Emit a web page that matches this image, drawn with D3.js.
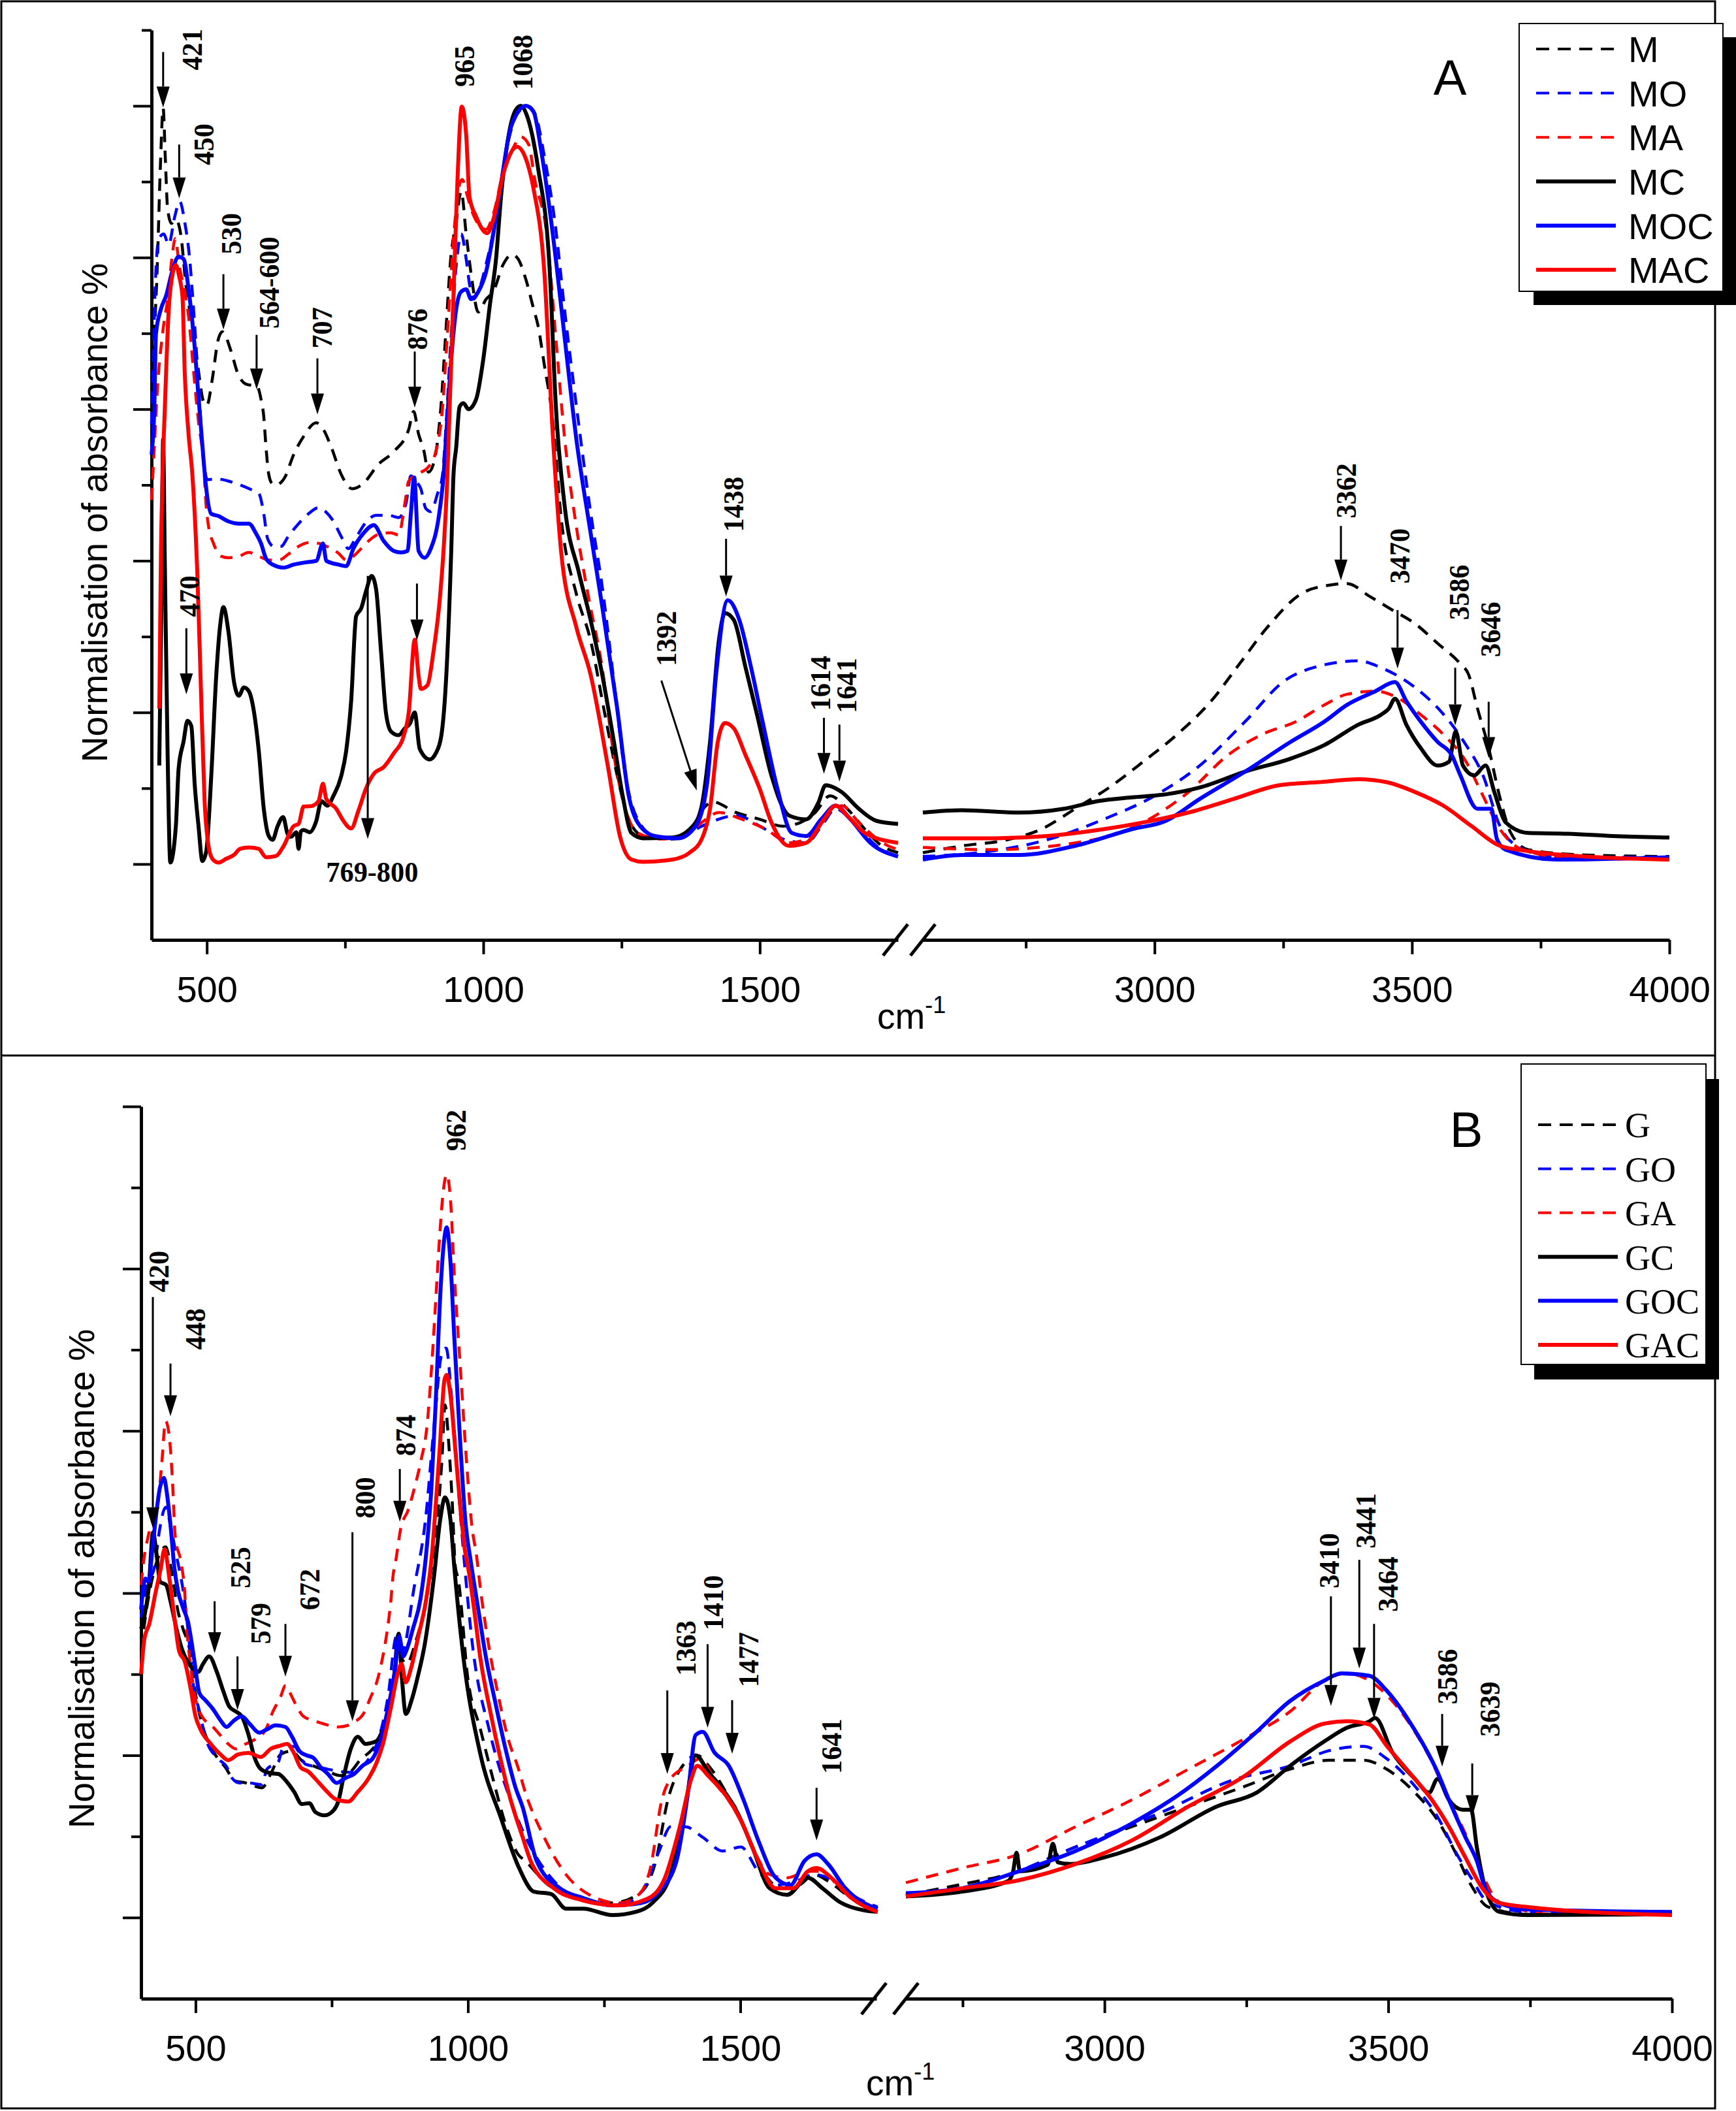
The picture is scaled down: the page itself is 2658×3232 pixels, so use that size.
<!DOCTYPE html>
<html>
<head>
<meta charset="utf-8">
<script src="https://cdn.jsdelivr.net/npm/d3@7"></script>
<style>
  body { margin: 0; background: #fff; }
  svg { display: block; }
</style>
</head>
<body>
<svg id="chart" width="2658" height="3232"></svg>
<script>
// ---------- panel A data: [wavenumber cm-1, normalised absorbance %] ----------
const mLeft = [[400,64],[405,70],[410,78],[416,92],[421,99.7],[425,93],[429,86.5],[436,84.5],[444,85],[453,83],[462,76.5],[476,70],[485,65],[494,61],[500,60.5],[510,64],[520,69],[528,70.2],[544,67.6],[555,64.9],[571,63.3],[591,63],[598,61.3],[603,59],[607,55],[612,51.4],[618,50.2],[625,50],[641,51],[657,54],[675,56.4],[698,58.2],[711,57.3],[725,55],[743,51.4],[763,49.5],[783,50.2],[810,52.7],[838,54.4],[865,57.3],[874,59.7],[883,56.7],[892,54.7],[901,51.7],[912,53.4],[923,60],[932,69.9],[941,79.8],[951,84.7],[960,88.7],[969,83.1],[978,77.8],[991,72.8],[1005,74.5],[1018,75.5],[1036,79.1],[1052,80.4],[1063,79.8],[1077,77.1],[1091,73.2],[1099,71],[1110,66],[1125,58.9],[1141,45.5],[1168,35.7],[1194,29.5],[1220,19.7],[1242,11.7],[1263,5.9],[1289,3.7],[1342,3.3],[1379,5],[1400,7.5],[1415,8.2],[1457,6.8],[1500,5.9],[1542,5.0],[1574,5.5],[1600,6.8],[1627,9.0],[1658,7.3],[1690,4.6],[1721,2.4],[1750,1.5]];
const mRight = [[2550,1.5],[2626,2.4],[2714,3.2],[2780,4.6],[2846,7.3],[2912,10.1],[2978,13.5],[3044,17.1],[3110,21.5],[3165,26.4],[3220,31.3],[3286,35.7],[3341,36.8],[3374,37.0],[3418,35.3],[3462,33.5],[3506,31.7],[3550,29.1],[3594,26.4],[3610,25],[3627,20.6],[3649,15.3],[3670,9.0],[3692,4.1],[3726,1.9],[3835,1.2],[4000,1.0]];

const moLeft = [[400,58],[403,66],[406,74.8],[413,82.4],[422,83.1],[431,81.7],[442,85.4],[451,87.4],[460,84.7],[469,79.8],[476,73.2],[485,63.3],[494,53.4],[501,50.7],[517,50.8],[553,50.2],[580,49.4],[594,48.9],[603,46.2],[610,42.9],[621,41.9],[634,41.9],[648,43.3],[666,44.9],[684,46.2],[702,47.0],[716,46.4],[729,45.2],[743,43.2],[756,41.6],[770,43.1],[788,45.1],[806,46.0],[829,46.0],[847,45.7],[860,47.5],[869,51.2],[878,50.5],[887,49.5],[896,46.9],[905,46.5],[917,48.8],[926,51.2],[933,58.3],[942,69.9],[953,80.4],[960,83.1],[969,79.8],[975,76.5],[982,74.5],[991,75.5],[1005,79.1],[1018,83.4],[1032,90],[1046,95.6],[1064,99.2],[1082,99.9],[1094,98.9],[1110,93.5],[1131,83.8],[1147,73.1],[1168,60.6],[1194,46.4],[1215,36.6],[1236,24.2],[1257,11.7],[1279,5.9],[1310,3.7],[1352,3.4],[1395,5.0],[1458,6.4],[1500,5.0],[1542,3.3],[1584,2.8],[1616,5.5],[1637,7.3],[1669,5.5],[1711,2.4],[1750,0.9]];
const moRight = [[2550,1.0],[2681,1.7],[2791,3.2],[2901,5.9],[3000,9.0],[3088,13.0],[3176,18.8],[3253,24.2],[3319,26.1],[3396,26.8],[3440,25.9],[3506,23.3],[3550,20.6],[3583,17.9],[3605,15.7],[3638,11.7],[3671,5.0],[3704,2.4],[3781,0.9],[4000,0.9]];

const maLeft = [[400,48],[405,55],[410,62],[420,70],[430,75],[437,80],[443,82.5],[450,79],[460,75.5],[467,72.2],[476,65],[485,58.3],[494,53],[499,47],[503,44.6],[512,42.3],[526,40.6],[539,40.4],[558,40.6],[576,41.1],[594,40.6],[612,40.1],[630,40.1],[648,40.9],[666,41.9],[684,42.4],[702,42.3],[720,41.8],[738,41],[752,40.1],[765,40.6],[779,41.6],[797,42.9],[815,43.6],[833,43.7],[847,43.4],[858,47.5],[865,50.5],[883,51.5],[901,52.4],[914,54.4],[926,60],[935,69.9],[946,82.4],[955,89],[962,90.3],[969,88.7],[978,86.4],[991,84.4],[1005,83.7],[1018,85.7],[1036,91.3],[1055,94.6],[1068,95.9],[1082,94.9],[1093,90.3],[1115,82.9],[1131,69.5],[1147,56.2],[1168,44.6],[1189,35.7],[1215,25.9],[1236,14.4],[1257,7.3],[1279,4.1],[1321,3.3],[1363,3.7],[1395,5.5],[1426,6.8],[1468,5.9],[1511,4.6],[1553,2.8],[1595,3.7],[1627,6.8],[1648,7.7],[1679,5.5],[1722,2.8],[1750,1.9]];
const maRight = [[2550,2.2],[2681,1.9],[2846,2.8],[2923,3.9],[2989,5.9],[3066,9.5],[3143,14.4],[3209,17.1],[3275,18.8],[3330,21.0],[3374,22.4],[3429,22.8],[3473,21.9],[3517,19.7],[3561,17.1],[3605,13.5],[3638,9.0],[3671,4.6],[3715,1.9],[3835,0.6],[4000,0.9]];

const mcLeft = [[414,13],[418,35],[421,56],[424,40],[429,15],[434,0.2],[444,5],[449,12.6],[458,16.2],[465,18.9],[472,18.2],[478,10.6],[485,5],[492,0.4],[499,1.7],[508,11.6],[517,24.8],[524,31.4],[530,33.9],[539,30.7],[549,24.1],[558,22.2],[567,23.3],[576,22.8],[585,20.2],[594,14.9],[603,7.3],[612,3.7],[619,3.2],[628,5.0],[638,6.2],[646,4.0],[652,3.6],[662,4.2],[666,2.0],[670,4.3],[675,4.5],[686,4.2],[698,5.7],[707,8.3],[718,7.7],[729,9.0],[743,11.6],[752,14.9],[761,21.5],[770,32.7],[779,33.7],[788,36.0],[798,38.0],[806,36.3],[815,28.1],[824,19.9],[833,17.5],[847,17.0],[858,17.9],[867,18.5],[876,20],[885,15.2],[903,13.8],[914,14.6],[924,16.9],[933,24.8],[942,41.3],[946,51.2],[951,55],[957,60.3],[964,60.8],[973,60],[987,61.3],[1000,66.6],[1012,73.8],[1023,79.8],[1032,88],[1046,96.2],[1059,99.5],[1068,100],[1078,98.9],[1099,91.8],[1120,78.4],[1131,60.6],[1147,47.3],[1173,38.4],[1194,32.2],[1215,25],[1236,16.2],[1252,9],[1268,4.1],[1289,3.4],[1342,3.5],[1379,5],[1395,7.7],[1410,16.1],[1426,29.5],[1437,33.1],[1453,32.2],[1474,26],[1495,19.7],[1521,11.7],[1553,6.4],[1584,5.9],[1606,8.1],[1619,10.4],[1648,9.5],[1679,7.3],[1711,5.7],[1750,5.3]];
const mcRight = [[2550,6.8],[2626,7.1],[2736,6.8],[2824,7.3],[2890,8.3],[2956,8.8],[3022,9.2],[3088,10.1],[3176,12.2],[3264,13.9],[3330,15.7],[3396,18.4],[3440,19.7],[3455,20.5],[3467,21.8],[3489,18.4],[3517,15.3],[3550,13.0],[3572,13.5],[3585,17.5],[3599,13.0],[3621,11.7],[3643,13.0],[3660,9.5],[3682,5.5],[3726,4.1],[3803,4.0],[3890,3.7],[4000,3.5]];

const mocLeft = [[400,54],[405,60],[408,69.9],[417,73.2],[427,75.1],[436,77.8],[449,80.1],[458,79.8],[467,75.8],[476,69.9],[485,61.6],[494,53.4],[499,49.5],[508,46.2],[521,45.9],[539,45.2],[558,44.9],[576,44.9],[589,43.6],[598,42.3],[607,40.3],[619,39.5],[639,39.1],[657,39.5],[680,39.8],[698,40.0],[710,42.3],[716,40],[738,39.5],[752,39.3],[765,41.6],[783,43.6],[802,44.7],[820,42.6],[838,41.3],[851,41.1],[863,41.3],[869,46.2],[875,51],[883,41.3],[894,40.4],[905,41.6],[919,45.6],[928,51.2],[933,56.7],[942,66.6],[951,73.2],[960,75.5],[969,75.8],[978,74.5],[991,75.5],[1005,78.1],[1018,83.1],[1032,89.7],[1050,97.2],[1077,100],[1091,99.2],[1104,94.4],[1126,82.9],[1147,69.5],[1168,56.2],[1194,43.7],[1215,34],[1242,20.6],[1263,9.0],[1279,5.5],[1310,3.7],[1352,3.4],[1384,5],[1405,10.8],[1421,25],[1442,34.8],[1463,32.2],[1484,26],[1505,18.8],[1532,9.9],[1558,4.1],[1584,3.7],[1611,5.9],[1637,7.7],[1664,5.9],[1700,2.8],[1750,1.0]];
const mocRight = [[2550,0.6],[2626,1.2],[2736,1.2],[2846,2.4],[2956,4.6],[3022,5.7],[3088,8.6],[3176,12.2],[3264,16.1],[3330,18.8],[3374,21.0],[3429,22.8],[3467,24.0],[3489,21.5],[3517,18.8],[3550,16.1],[3577,14.4],[3594,11.7],[3627,7.3],[3654,7.3],[3665,3.3],[3682,1.9],[3781,0.6],[4000,0.9]];

const macLeft = [[414,20.5],[417,41],[420,51.4],[424,60],[431,73],[438,77.8],[444,79],[450,77.5],[456,74.8],[460,65],[467,56.7],[474,51.2],[483,38],[490,21.5],[496,8.3],[503,2.4],[510,0.7],[521,0.2],[535,0.7],[549,1.2],[560,2.0],[576,2.2],[594,2.0],[607,0.9],[625,1.06],[639,2.4],[657,5.0],[666,5.3],[675,7.6],[689,7.65],[702,8.3],[710,10.6],[716,8.6],[734,7.3],[747,5.7],[761,4.7],[774,7.0],[788,10.0],[802,11.9],[820,12.8],[838,14.6],[856,16.9],[865,19.9],[876,29.6],[883,24.8],[887,23.1],[899,23.6],[910,28.1],[921,34.7],[928,41.3],[935,51.2],[939,60],[946,74.8],[953,89.7],[961,99.9],[969,96.2],[975,88],[987,85.4],[1007,83.2],[1018,85],[1036,91],[1061,94.6],[1077,93],[1091,89],[1110,78.4],[1126,56.2],[1141,41],[1168,31.3],[1194,25],[1226,12.6],[1247,3.7],[1268,0.6],[1289,0.3],[1342,0.6],[1373,1.5],[1395,3.3],[1410,7.3],[1424,16.1],[1437,18.6],[1453,17.9],[1474,14.4],[1500,9.9],[1521,5.5],[1553,2.4],[1584,2.8],[1616,5.9],[1637,7.7],[1658,6.4],[1690,4.1],[1750,2.8]];
const macRight = [[2550,3.4],[2681,3.4],[2791,3.7],[2901,4.6],[2978,5.5],[3066,6.8],[3154,8.6],[3242,10.4],[3319,10.8],[3396,11.2],[3451,10.8],[3506,9.5],[3561,7.7],[3616,5.0],[3671,2.4],[3726,1.7],[3835,1.0],[4000,0.6]];

// ---------- panel B data ----------
const gLeft = [[400,33],[410,38],[425,43],[445,45.7],[455,43],[468,37.7],[477,35.6],[489,33.1],[500,27.6],[512,23.8],[525,21.4],[539,19.8],[555,18.5],[571,16.9],[592,16.6],[622,16.0],[638,17.7],[656,20.1],[675,20.5],[698,19.2],[720,18.6],[743,18],[766,17.5],[785,18],[803,19.5],[821,20.5],[835,21.7],[849,23.8],[863,29.4],[872,35],[879,31.9],[888,31.3],[904,34],[922,38.7],[935,44],[945,50],[952,56.1],[958,63.2],[964,59.2],[971,51.5],[977,43.2],[982,41.8],[1000,29.4],[1023,23.2],[1046,17.1],[1069,11.5],[1092,7.8],[1105,7.0],[1148,4.0],[1191,2.8],[1265,1.8],[1319,3.2],[1345,7.0],[1367,14.5],[1394,18.7],[1421,20],[1442,18.7],[1474,15.4],[1506,11.2],[1538,6.1],[1576,3.6],[1608,4.0],[1635,5.3],[1661,4.5],[1704,2.4],[1752,1.1]];
const gRight = [[2650,2.8],[2749,4.1],[2849,5.7],[2949,8.7],[3048,11.2],[3148,13.7],[3248,16.2],[3327,18.3],[3397,19.4],[3457,19.4],[3497,18.3],[3547,15.4],[3587,12.0],[3617,8.2],[3646,4.0],[3676,1.3],[3746,0.4],[4000,0.7]];

const goLeft = [[400,37],[410,41],[424,43],[434,47.8],[445,50.6],[455,48],[462,45.6],[482,38],[491,32.2],[498,27.6],[505,26],[519,22],[543,19.5],[557,18.6],[567,17.2],[580,16.6],[596,16.6],[622,16.4],[631,18.3],[652,19.2],[660,20.8],[681,21.1],[702,18.9],[723,18.6],[757,18.1],[783,17.9],[826,20.4],[853,27.1],[869,34.7],[880,33],[901,40.6],[922,49],[938,60.7],[952,69.5],[960,70.2],[971,63.2],[987,49],[1008,33.8],[1040,22.9],[1078,14.5],[1115,8.7],[1158,4.5],[1212,2.1],[1276,1.5],[1319,3.2],[1351,8.2],[1372,11.2],[1399,11.2],[1431,9.9],[1468,8.2],[1501,8.7],[1533,5.7],[1565,4.0],[1603,4.5],[1635,5.3],[1661,4.9],[1704,2.8],[1752,1.3]];
const goRight = [[2650,2.8],[2799,4.5],[2949,8.7],[3098,12.9],[3228,17.0],[3327,18.7],[3397,20.6],[3457,21.1],[3497,19.6],[3547,16.2],[3587,12.4],[3621,7.8],[3646,4.9],[3676,1.9],[3746,0.7],[4000,0.7]];

const gaLeft = [[400,41],[403,43],[414,47.3],[430,50.6],[438,56],[445,61.2],[452,59.2],[457,54.6],[463,46.8],[473,43.9],[480,40.2],[484,35.6],[491,31],[498,27.6],[510,25],[532,23.5],[544,22.6],[560,21.4],[574,20.8],[592,21.4],[610,22],[629,23.2],[642,25.4],[656,27.2],[665,28.6],[677,27.2],[686,26],[698,24.8],[716,24.3],[739,23.8],[762,23.5],[780,23.7],[794,24.2],[808,25.1],[821,27.1],[833,29.1],[842,31.6],[851,35],[858,38.7],[863,42.4],[867,43.8],[877,48.1],[890,50.2],[902,53],[913,56.1],[925,60.7],[934,68.5],[941,76.2],[948,83.9],[955,89.7],[961,91.6],[968,88.5],[975,79.3],[987,66.9],[996,57.6],[1007,48.4],[1016,44.5],[1023,40.5],[1037,34],[1055,27.6],[1074,22],[1092,18.5],[1105,15.5],[1137,10.3],[1180,5.3],[1223,2.8],[1276,1.8],[1313,2.8],[1335,6.1],[1356,14.5],[1372,17.1],[1404,18.7],[1426,19.6],[1458,16.2],[1490,13.7],[1522,8.7],[1554,5.3],[1586,4.9],[1624,5.7],[1651,5.7],[1683,3.6],[1726,1.9],[1752,1.1]];
const gaRight = [[2650,4.3],[2749,6.1],[2849,7.8],[2949,11.2],[3048,14.5],[3148,18.3],[3248,22.1],[3327,25.4],[3387,29.2],[3427,30.1],[3467,29.2],[3507,26.7],[3547,22.9],[3577,19.2],[3607,14.5],[3636,10.3],[3661,6.1],[3696,1.9],[3796,0.4],[4000,0.4]];

const gcLeft = [[400,35.6],[406,37.1],[414,40.6],[422,47.5],[428,45],[435,41.4],[446,41],[454,39],[466,35.3],[475,33.1],[491,31],[505,30.3],[514,31.3],[525,32.2],[539,30.3],[551,27.9],[562,26],[574,25.4],[585,24.8],[597,22.6],[608,19.8],[620,18.3],[638,17.8],[652,17.7],[668,16.7],[681,15.5],[695,14],[709,14.1],[720,13.0],[737,12.6],[753,13.2],[762,14.3],[771,17.1],[785,20.8],[798,22.3],[812,21.4],[821,21.5],[833,21.8],[844,23.2],[858,26.3],[867,31],[873,35],[879,29.4],[886,25.1],[897,26.9],[909,30],[920,33.4],[938,42.2],[949,49],[958,51.8],[968,49],[975,43.2],[991,32.5],[1023,20.1],[1060,12.4],[1094,6.1],[1121,3.2],[1153,2.9],[1180,1.1],[1212,1.1],[1265,0.3],[1308,0.7],[1340,1.9],[1372,5.3],[1399,13.7],[1418,20],[1442,17.9],[1468,15.8],[1495,12.9],[1522,8.7],[1554,3.6],[1586,2.8],[1624,4.9],[1651,3.6],[1683,1.9],[1726,0.9],[1752,0.7]];
const gcRight = [[2650,2.6],[2749,3.2],[2830,4.5],[2839,5.7],[2845,8],[2851,5.7],[2900,6.5],[2909,9.1],[2918,6.8],[2939,6.6],[2999,7.4],[3098,9.9],[3198,13.7],[3268,15.4],[3327,18.7],[3387,21.7],[3427,23.4],[3467,24.2],[3477,24.6],[3507,20.4],[3547,17.1],[3572,15.4],[3587,17.1],[3607,14.5],[3631,13.3],[3646,13.3],[3656,8.7],[3671,3.6],[3696,0.7],[3746,0.3],[4000,0.4]];

const gocLeft = [[400,38],[408,41.8],[414,41.4],[421,45.6],[435,53.1],[442,54.2],[448,52],[454,48.4],[461,43.2],[468,40.2],[477,38.2],[486,36.5],[498,31.6],[507,27.7],[518,26.8],[532,25.7],[546,24.3],[557,23.5],[569,24.2],[585,24.8],[599,23.9],[617,22.8],[631,23.2],[647,23.7],[665,23.5],[677,22.3],[691,20.5],[704,20.0],[716,19.7],[730,18.5],[743,17.7],[759,16.6],[775,17.2],[791,17.7],[808,18.8],[824,19.5],[840,22.0],[853,25.7],[865,30.0],[874,34.7],[881,32.2],[888,33.1],[899,35.6],[913,39.3],[925,46],[933,53],[941,63.8],[950,77.7],[957,83.9],[961,85.1],[968,80.8],[975,71.5],[984,60.7],[996,48.4],[1005,44],[1019,38.0],[1032,32.5],[1051,26.3],[1069,20.8],[1087,16.1],[1100,13.7],[1126,7],[1169,3.6],[1212,2.4],[1265,1.5],[1318,1.8],[1351,3.2],[1383,7],[1404,15.4],[1418,22.5],[1431,22.9],[1452,20.4],[1479,18.7],[1506,14.5],[1533,9.5],[1565,4.9],[1592,4.0],[1618,7.0],[1640,7.8],[1661,6.6],[1693,3.6],[1726,1.8],[1752,1.1]];
const gocRight = [[2650,3.0],[2749,3.6],[2849,5.7],[2949,8.2],[3048,11.6],[3128,15],[3198,18.7],[3268,22.9],[3327,26.7],[3387,29.2],[3417,30.1],[3467,29.8],[3497,28],[3537,24.2],[3587,17.9],[3607,14.5],[3636,9.9],[3656,7.0],[3671,3.6],[3696,1.8],[3746,1.0],[4000,0.7]];

const gacLeft = [[400,30],[406,34.3],[415,36.2],[427,40.2],[436,43],[443,45.4],[452,41.8],[461,37.1],[470,32.8],[480,31.6],[491,28.2],[500,24.8],[509,23.2],[528,21.4],[546,20.1],[560,19.4],[578,20.1],[597,20.3],[620,19.8],[638,20.8],[656,21.2],[668,21.4],[679,20.5],[693,18.5],[707,18.0],[720,17.1],[739,15.7],[757,14.6],[780,14.3],[798,15.5],[817,17.1],[833,19.2],[844,21.4],[858,25.7],[872,30.3],[878,31.3],[886,29.0],[895,30.6],[909,34.7],[922,38.7],[934,44.8],[940,50],[948,57.6],[957,66.3],[961,66.9],[968,64.4],[977,57.6],[987,49.9],[994,45.5],[1002,42.5],[1010,38.7],[1023,31.9],[1042,25.1],[1060,19.5],[1078,14.6],[1100,10],[1115,7],[1158,3.6],[1212,2.1],[1276,1.5],[1329,2.3],[1361,4.8],[1389,11.2],[1410,17.1],[1421,18.7],[1442,17.4],[1474,15.0],[1501,12.0],[1533,7],[1565,3.6],[1597,3.6],[1624,5.7],[1640,6.1],[1667,4.9],[1704,2.4],[1752,0.7]];
const gacRight = [[2650,2.6],[2749,3.6],[2849,4.6],[2949,6.6],[3048,9.5],[3148,13.7],[3248,17.5],[3327,21.7],[3387,23.9],[3427,24.2],[3467,23.8],[3497,21.2],[3537,17.9],[3577,14.5],[3607,11.2],[3636,7.4],[3666,3.6],[3696,1.8],[3746,1.3],[4000,0.3]];

// legend names
const namesA = ['M', 'MO', 'MA', 'MC', 'MOC', 'MAC'];
const namesB = ['G', 'GO', 'GA', 'GC', 'GOC', 'GAC'];

// tick values
const xMajorLeft = [500, 1000, 1500];
const xMinorLeft = [750, 1250];
const xMajorRight = [3000, 3500, 4000];
const xMinorRight = [2750, 3250, 3750];

// annotations: label, arrow x0,y0 -> x1,y1 (data), label position (data)
const notesA = [
  { t: '421', x0: 421, y0: 107.1, x1: 421, y1: 99.8, lx: 472, ly: 104.7 },
  { t: '450', x0: 450, y0: 94.9, x1: 450, y1: 87.8, lx: 493, ly: 92.2 },
  { t: '530', x0: 530, y0: 77.8, x1: 530, y1: 70.5, lx: 543, ly: 80.4 },
  { t: '564-600', x0: 590, y0: 69.8, x1: 590, y1: 62.6, lx: 612, ly: 70.6 },
  { t: '707', x0: 700, y0: 66.7, x1: 700, y1: 59.3, lx: 707, ly: 68.0 },
  { t: '876', x0: 876, y0: 67.6, x1: 876, y1: 60.2, lx: 880, ly: 67.8 },
  { t: '965', lx: 965, ly: 102.5 },
  { t: '1068', lx: 1070, ly: 102.1 },
  { t: '470', x0: 463, y0: 31.1, x1: 463, y1: 22.4, lx: 468, ly: 32.6 },
  { t: '', x0: 880, y0: 37.0, x1: 880, y1: 29.5 },
  { t: '769-800', x0: 791, y0: 38.0, x1: 791, y1: 3.3, lx: 799, ly: -2.3, flat: true },
  { t: '1392', x0: 1322, y0: 24.2, x1: 1386, y1: 9.7, lx: 1330, ly: 26.1 },
  { t: '1438', x0: 1439, y0: 42.9, x1: 1439, y1: 35.3, lx: 1451, ly: 43.8 },
  { t: '1614', x0: 1616, y0: 19.3, x1: 1616, y1: 11.9, lx: 1609, ly: 20.2 },
  { t: '1641', x0: 1644, y0: 18.4, x1: 1644, y1: 10.9, lx: 1656, ly: 19.9 },
  { t: '3362', x0: 3362, y0: 44.6, x1: 3362, y1: 37.4, lx: 3371, ly: 45.6 },
  { t: '3470', x0: 3472, y0: 33.5, x1: 3472, y1: 25.8, lx: 3475, ly: 37.0 },
  { t: '3586', x0: 3584, y0: 25.9, x1: 3584, y1: 18.3, lx: 3591, ly: 32.2 },
  { t: '3646', x0: 3649, y0: 21.4, x1: 3649, y1: 14.0, lx: 3651, ly: 27.3 }
];
const notesB = [
  { t: '420', x0: 421.6, y0: 76.5, x1: 421.6, y1: 48.0, lx: 431, ly: 77.1 },
  { t: '448', x0: 454, y0: 68.3, x1: 454, y1: 61.8, lx: 499, ly: 70.0 },
  { t: '525', x0: 535, y0: 39.0, x1: 535, y1: 32.6, lx: 581, ly: 40.6 },
  { t: '579', x0: 577, y0: 32.2, x1: 577, y1: 25.6, lx: 619, ly: 33.7 },
  { t: '672', x0: 665, y0: 36.2, x1: 665, y1: 29.7, lx: 708, ly: 37.9 },
  { t: '800', x0: 788, y0: 47.5, x1: 788, y1: 24.2, lx: 810, ly: 49.2 },
  { t: '874', x0: 875, y0: 55.3, x1: 875, y1: 48.8, lx: 885, ly: 56.9 },
  { t: '962', lx: 977, ly: 94.5 },
  { t: '1363', x0: 1366, y0: 28.0, x1: 1366, y1: 17.7, lx: 1399, ly: 29.8 },
  { t: '1410', x0: 1440, y0: 33.7, x1: 1440, y1: 23.4, lx: 1449, ly: 35.4 },
  { t: '1477', x0: 1485, y0: 26.8, x1: 1485, y1: 20.2, lx: 1514, ly: 28.4 },
  { t: '1641', x0: 1640, y0: 16.0, x1: 1640, y1: 9.5, lx: 1666, ly: 17.7 },
  { t: '3410', x0: 3399, y0: 39.6, x1: 3399, y1: 26.1, lx: 3395, ly: 40.6 },
  { t: '3441', x0: 3449, y0: 44.1, x1: 3449, y1: 30.7, lx: 3459, ly: 45.5 },
  { t: '3464', x0: 3475, y0: 36.2, x1: 3475, y1: 24.5, lx: 3499, ly: 37.7 },
  { t: '3586', x0: 3595, y0: 25.1, x1: 3595, y1: 18.6, lx: 3603, ly: 26.3 },
  { t: '3639', x0: 3648, y0: 19.0, x1: 3648, y1: 12.5, lx: 3678, ly: 22.3 }
];

// ---------- drawing ----------
const W = 2658, H = 3232;
const SANS = '"Liberation Sans", Arial, sans-serif';
const SERIF = '"Liberation Serif", "Times New Roman", serif';
const colors = ['#000', '#0000ff', '#ff0000', '#000', '#0000ff', '#ff0000'];
const dashed = [true, true, true, false, false, false];

const svg = d3.select('#chart');
svg.append('rect').attr('width', W).attr('height', H).attr('fill', '#fff');

// outer frame and panel separator
svg.append('rect').attr('x', 2).attr('y', 2).attr('width', 2624).attr('height', 3226)
  .attr('fill', 'none').attr('stroke', '#000').attr('stroke-width', 3);
svg.append('line').attr('x1', 2).attr('x2', 2626).attr('y1', 1616).attr('y2', 1616)
  .attr('stroke', '#000').attr('stroke-width', 3);

function drawPanel(cfg) {
  const g = svg.append('g');
  const xl = d3.scaleLinear().domain(cfg.leftDomain).range(cfg.leftRange);
  const xr = d3.scaleLinear().domain(cfg.rightDomain).range(cfg.rightRange);
  const y = d3.scaleLinear().domain(cfg.yDomain).range(cfg.yRange);
  const X = v => (v < 2000 ? xl(v) : xr(v));
  const y0 = cfg.yRange[0];

  // x axis segments
  function xAxis(scale, major, minor) {
    const maj = g.append('g').attr('transform', `translate(0,${y0})`)
      .call(d3.axisBottom(scale).tickValues(major).tickSize(22).tickSizeOuter(0)
        .tickPadding(33).tickFormat(d3.format('d')));
    maj.select('.domain').attr('stroke-width', 5);
    maj.selectAll('.tick line').attr('stroke-width', 4);
    maj.selectAll('text').attr('font-family', SANS).attr('font-size', 56).attr('fill', '#000');
    const mn = g.append('g').attr('transform', `translate(0,${y0})`)
      .call(d3.axisBottom(scale).tickValues(minor).tickSize(13).tickSizeOuter(0).tickFormat(''));
    mn.select('.domain').remove();
    mn.selectAll('.tick line').attr('stroke-width', 4);
  }
  xAxis(xl, xMajorLeft, xMinorLeft);
  xAxis(xr, xMajorRight, xMinorRight);

  // break marks
  [cfg.leftRange[1] - 4, cfg.rightRange[0]].forEach(cx => {
    g.append('line').attr('x1', cx - 19).attr('y1', y0 + 24).attr('x2', cx + 19).attr('y2', y0 - 24)
      .attr('stroke', '#000').attr('stroke-width', 5);
  });

  // y axis
  const ax = cfg.leftRange[0];
  const ya = g.append('g').attr('transform', `translate(${ax},0)`)
    .call(d3.axisLeft(y).tickValues(cfg.yMajor).tickSize(28).tickSizeOuter(0).tickFormat(''));
  ya.select('.domain').attr('stroke-width', 5);
  ya.selectAll('.tick line').attr('stroke-width', 4);
  const ym = g.append('g').attr('transform', `translate(${ax},0)`)
    .call(d3.axisLeft(y).tickValues(cfg.yMinor).tickSize(15).tickSizeOuter(0).tickFormat(''));
  ym.select('.domain').remove();
  ym.selectAll('.tick line').attr('stroke-width', 4);

  g.append('text')
    .attr('transform', `translate(${cfg.yTitle[0]},${cfg.yTitle[1]}) rotate(-90)`)
    .attr('text-anchor', 'middle').attr('dy', '0.35em')
    .attr('font-family', SANS).attr('font-size', 55).text('Normalisation of absorbance %');

  // cm-1
  const cm = g.append('text').attr('x', cfg.cm[0]).attr('y', cfg.cm[1])
    .attr('font-family', SANS).attr('font-size', 55);
  cm.append('tspan').text('cm');
  cm.append('tspan').attr('dy', -24).attr('font-size', 36).text('-1');

  // curves
  const lineL = d3.line().x(d => xl(d[0])).y(d => y(d[1])).curve(d3.curveMonotoneX);
  const lineR = d3.line().x(d => xr(d[0])).y(d => y(d[1])).curve(d3.curveMonotoneX);
  cfg.series.forEach((s, i) => {
    [[s[0], lineL], [s[1], lineR]].forEach(([pts, ln]) => {
      g.append('path').attr('d', ln(pts)).attr('fill', 'none')
        .attr('stroke', colors[i])
        .attr('stroke-width', dashed[i] ? 4.5 : 6)
        .attr('stroke-linejoin', 'round')
        .attr('stroke-dasharray', dashed[i] ? '19,13' : null);
    });
  });

  // annotations
  cfg.notes.forEach(n => {
    if (n.x0 !== undefined) {
      const ax0 = X(n.x0), ay0 = y(n.y0), ax1 = X(n.x1), ay1 = y(n.y1);
      const ang = Math.atan2(ay1 - ay0, ax1 - ax0);
      const hl = 32, hw = 10;
      const bx = ax1 - hl * Math.cos(ang), by = ay1 - hl * Math.sin(ang);
      g.append('line').attr('x1', ax0).attr('y1', ay0).attr('x2', bx).attr('y2', by)
        .attr('stroke', '#000').attr('stroke-width', 3);
      const px = -Math.sin(ang), py = Math.cos(ang);
      g.append('path')
        .attr('d', `M${ax1},${ay1}L${bx + hw * px},${by + hw * py}L${bx - hw * px},${by - hw * py}Z`)
        .attr('fill', '#000');
    }
    if (n.t) {
      const tx = g.append('text').attr('font-family', SERIF).attr('font-weight', 'bold')
        .attr('font-size', 45).text(n.t);
      if (n.flat) {
        tx.attr('transform', `translate(${X(n.lx)},${y(n.ly)}) scale(0.94,1)`).attr('text-anchor', 'middle');
      } else {
        tx.attr('transform', `translate(${X(n.lx)},${y(n.ly)}) rotate(-90) scale(0.94,1)`).attr('dy', '0.35em');
      }
    }
  });

  // panel letter
  g.append('text').attr('x', cfg.letterPos[0]).attr('y', cfg.letterPos[1])
    .attr('text-anchor', 'middle').attr('font-family', SANS).attr('font-size', 76).text(cfg.letter);

  // legend
  const L = cfg.legend;
  g.append('rect').attr('x', L.x + L.sx).attr('y', L.y + L.sy).attr('width', L.w).attr('height', L.h).attr('fill', '#000');
  g.append('rect').attr('x', L.x).attr('y', L.y).attr('width', L.w).attr('height', L.h)
    .attr('fill', '#fff').attr('stroke', '#000').attr('stroke-width', 2);
  cfg.names.forEach((nm, i) => {
    const ly = L.firstY + i * L.step;
    g.append('line').attr('x1', L.x + 26).attr('x2', L.x + 148).attr('y1', ly).attr('y2', ly)
      .attr('stroke', colors[i]).attr('stroke-width', dashed[i] ? 4 : 6)
      .attr('stroke-dasharray', dashed[i] ? '20,13' : null);
    g.append('text').attr('x', L.textX).attr('y', ly).attr('dy', '0.36em')
      .attr('font-family', L.font).attr('font-size', L.size).text(nm);
  });
}

drawPanel({
  leftDomain: [400, 1750], leftRange: [232, 1375],
  rightDomain: [2550, 4000], rightRange: [1413, 2556],
  yDomain: [-10, 110], yRange: [1439, 46],
  yMajor: [0, 20, 40, 60, 80, 100], yMinor: [10, 30, 50, 70, 90, 110],
  yTitle: [145, 785], cm: [1343, 1575],
  series: [[mLeft, mRight], [moLeft, moRight], [maLeft, maRight], [mcLeft, mcRight], [mocLeft, mocRight], [macLeft, macRight]],
  notes: notesA, names: namesA,
  letter: 'A', letterPos: [2220, 145],
  legend: { x: 2326, y: 36, w: 312, h: 410, sx: 22, sy: 21, firstY: 75, step: 67.6, textX: 2493, font: SANS, size: 56 }
});

drawPanel({
  leftDomain: [400, 1750], leftRange: [216, 1342],
  rightDomain: [2650, 4000], rightRange: [1387, 2560],
  yDomain: [-10, 100], yRange: [3060, 1694],
  yMajor: [0, 20, 40, 60, 80, 100], yMinor: [10, 30, 50, 70, 90],
  yTitle: [125, 2417], cm: [1326, 3208],
  series: [[gLeft, gRight], [goLeft, goRight], [gaLeft, gaRight], [gcLeft, gcRight], [gocLeft, gocRight], [gacLeft, gacRight]],
  notes: notesB, names: namesB,
  letter: 'B', letterPos: [2245, 1756],
  legend: { x: 2329, y: 1629, w: 283, h: 460, sx: 20, sy: 23, firstY: 1722, step: 67.4, textX: 2488, font: SERIF, size: 54 }
});
</script>
</body>
</html>
